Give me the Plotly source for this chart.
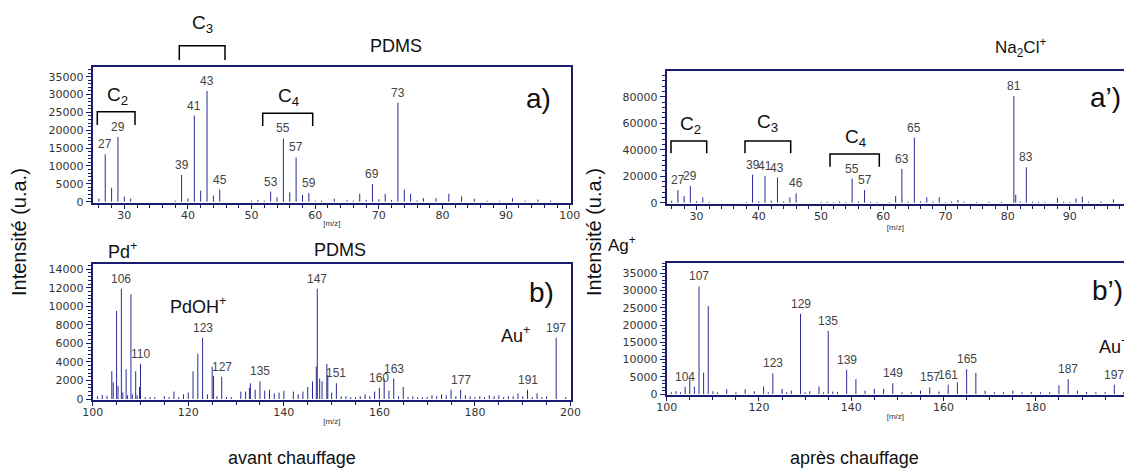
import plotly.graph_objects as go

W, H = 1124, 474
FRAME = "#1c1c6e"
STEM = "#2a2a96"
TXT = "#111111"
LBL = "#444444"
TICKFONT = "DejaVu Sans"
FONT = "Liberation Sans"

# ---------------- data: a) avant chauffage, m/z 25-100 ----------------
a_mz = [26, 27, 28, 29, 30, 31, 38, 39, 40, 41, 42, 43, 44, 45, 50, 51, 52, 53, 54, 55,
        56, 57, 58, 59, 60, 61, 63, 65, 66, 67, 68, 69, 70, 71, 72, 73, 74, 75, 76, 77,
        79, 81, 83, 85, 87, 89, 91, 93, 95, 97]
a_int = [900, 13300, 3900, 18100, 1400, 900, 300, 7500, 900, 24100, 3100, 31000, 1700, 3400, 300, 500, 300, 2800, 1200, 17700,
         2600, 12400, 1900, 2400, 300, 300, 800, 400, 300, 2200, 500, 4900, 700, 2200, 500, 27700, 3400, 2200, 300, 1000,
         1000, 2200, 1500, 800, 300, 300, 1000, 300, 600, 300]
a_labels = [27, 29, 39, 41, 43, 45, 53, 55, 57, 59, 69, 73]

# ---------------- data: b) avant chauffage, m/z 100-200 ----------------
b_mz = [101, 102, 103, 104, 104.3, 105, 105.3, 106, 106.3, 107, 107.3, 108, 108.3, 109, 109.3, 109.8, 110,
        111, 112, 113, 115, 116, 117, 118, 119, 120, 121, 122, 123, 124, 125, 125.3, 126, 127, 128, 129,
        131, 132, 132.8, 133, 134, 135, 136, 137, 138, 139, 140, 142, 143, 144, 145, 146, 146.8, 147, 147.5,
        148, 149, 149.2, 150, 151, 152, 153, 154, 155, 156, 157, 158, 159, 160, 161, 162, 163, 164, 165,
        166, 167, 168, 169, 170, 171, 172, 173, 174, 175, 176, 177, 178, 179, 180, 181, 182, 183, 184, 185,
        186, 187, 188, 189, 190, 191, 192, 193, 194, 195, 197, 199]
b_int = [300, 450, 350, 3000, 1800, 9500, 1400, 11900, 700, 3200, 400, 11300, 500, 3000, 400, 1300, 3800,
         200, 200, 200, 300, 200, 800, 200, 500, 700, 3000, 4900, 6600, 500, 3500, 2500, 300, 2400, 200, 200,
         800, 800, 1200, 1700, 1000, 1900, 900, 1000, 600, 700, 900, 800, 500, 800, 1300, 1900, 3500, 11900, 2200,
         1900, 3800, 2600, 700, 1700, 300, 300, 200, 200, 300, 500, 300, 800, 1200, 2200, 900, 2200, 300, 1300,
         200, 300, 200, 200, 200, 400, 300, 500, 400, 1000, 300, 1000, 400, 300, 200, 300, 200, 400, 300, 400,
         200, 300, 300, 600, 300, 1000, 200, 600, 200, 300, 6600, 200]
b_labels = [106, 110, 123, 127, 135, 147, 151, 160, 163, 177, 191, 197]

# ---------------- data: a') après chauffage, m/z 25-100 ----------------
ap_mz = [26, 27, 28, 29, 30, 31, 32, 38, 39, 40, 41, 42, 43, 44, 45, 46, 50, 51, 52, 53, 54, 55, 56, 57, 58,
         59, 61, 62, 63, 64, 65, 66, 67, 68, 69, 70, 71, 72, 73, 75, 77, 79, 81, 81.3, 82, 83, 84, 85, 86,
         88, 89, 90, 91, 92, 93, 95, 97]
ap_int = [1500, 9500, 5000, 12700, 1000, 4000, 500, 500, 21200, 1000, 20000, 1500, 19000, 1000, 4000, 7000, 500, 800, 500, 1000, 500, 18200, 1000, 9500, 800,
          500, 500, 5000, 25500, 800, 49200, 1000, 4200, 800, 4200, 500, 1000, 2000, 800, 500, 800, 600, 80500, 6000, 1000, 26700, 800, 600, 500,
          3700, 800, 600, 3200, 4500, 800, 1000, 2500]
ap_labels = [27, 29, 39, 41, 43, 46, 55, 57, 63, 65, 81, 83]

# ---------------- data: b') après chauffage, m/z 100-200 ----------------
bp_mz = [101, 102, 103, 104, 105, 106, 107, 108, 109, 110, 111, 113, 115, 117, 119, 121, 122, 123, 125, 126,
         127, 129, 130, 131, 133, 134, 135, 136, 137, 139, 141, 143, 145, 147, 149, 151, 153, 155, 157, 159,
         161, 163, 165, 167, 169, 171, 173, 175, 177, 179, 181, 183, 185, 187, 189, 191, 193, 195, 197, 199]
bp_int = [500, 800, 500, 2100, 4300, 2100, 31200, 6200, 25500, 800, 500, 1400, 500, 1400, 800, 2200, 500, 6000, 1500, 500,
          1000, 23300, 500, 800, 2200, 500, 18300, 700, 600, 7000, 4300, 1000, 1500, 1500, 3100, 500, 500, 1000, 1900, 700,
          2700, 3400, 7200, 6100, 1000, 500, 500, 1000, 500, 600, 500, 500, 2500, 4300, 1000, 600, 500, 500, 2700, 500]
bp_labels = [104, 107, 123, 129, 135, 139, 149, 157, 161, 165, 187, 197]


def px(x):
    return x / W


def py(y):
    return 1 - y / H


def stems(mz, inten):
    xs, ys = [], []
    for m, v in zip(mz, inten):
        xs += [m, m, None]
        ys += [0, v, None]
    return xs, ys


fig = go.Figure()
panels = [(a_mz, a_int, "x", "y"), (b_mz, b_int, "x2", "y2"),
          (ap_mz, ap_int, "x3", "y3"), (bp_mz, bp_int, "x4", "y4")]
for mz, inten, xr, yr in panels:
    xs, ys = stems(mz, inten)
    fig.add_trace(go.Scatter(x=xs, y=ys, mode="lines", xaxis=xr, yaxis=yr,
                             line=dict(color=STEM, width=1), hoverinfo="skip", showlegend=False))


def xax(domain, rng, dtick, minor, anchor):
    return dict(domain=domain, range=rng, dtick=dtick, tick0=0, ticks="outside", ticklen=4,
                tickwidth=1, tickcolor=FRAME, tickformat="d", automargin=False,
                ticklabelstandoff=-3,
                minor=dict(dtick=minor, tick0=0, ticks="outside", ticklen=3, tickcolor=FRAME),
                showline=True, linecolor=FRAME, linewidth=2, mirror=True, showgrid=False,
                zeroline=False, tickfont=dict(family=TICKFONT, size=11, color="#333"),
                title=dict(text="[m/z]", font=dict(family=FONT, size=8, color="#333"), standoff=0),
                anchor=anchor, fixedrange=True)


def yax(domain, rng, dtick, minor, anchor, mirror):
    return dict(domain=domain, range=rng, dtick=dtick, tick0=0, ticks="outside", ticklen=5,
                tickwidth=1, tickcolor=FRAME, tickformat="d", exponentformat="none", automargin=False,
                minor=dict(dtick=minor, tick0=0, ticks="outside", ticklen=3, tickcolor=FRAME),
                showline=True, linecolor=FRAME, linewidth=2, mirror=mirror, showgrid=False,
                zeroline=False, tickfont=dict(family=TICKFONT, size=11, color="#333"),
                anchor=anchor, fixedrange=True)


L = [px(92.7), px(571)]
R = [px(666.7), 1.0]
fig.update_layout(
    width=W, height=H, margin=dict(l=0, r=0, t=0, b=0, pad=0), autosize=False,
    paper_bgcolor="white", plot_bgcolor="white", showlegend=False,
    xaxis=xax(L, [25.03, 100.2], 10, 2, "y"),
    yaxis=yax([py(202.5), py(67)], [-224, 37716], 5000, 1000, "x", True),
    xaxis2=xax(L, [100, 200.1], 20, 5, "y2"),
    yaxis2=yax([py(400), py(264)], [-108, 14570], 2000, 400, "x2", True),
    xaxis3=xax(R, [25.2, 98.7], 10, 2, "y3"),
    yaxis3=yax([py(203.5), py(70.7)], [-604, 99620], 20000, 4000, "x3", False),
    xaxis4=xax(R, [100, 199.1], 20, 5, "y4"),
    yaxis4=yax([py(395), py(263)], [-290, 38000], 5000, 1000, "x4", False),
)

# peak labels
for mz, inten, labels, xr, yr in [(a_mz, a_int, a_labels, "x", "y"), (b_mz, b_int, b_labels, "x2", "y2"),
                                   (ap_mz, ap_int, ap_labels, "x3", "y3"), (bp_mz, bp_int, bp_labels, "x4", "y4")]:
    lookup = dict(zip(mz, inten))
    for m in labels:
        fig.add_annotation(x=m, y=lookup[m], xref=xr, yref=yr, text=str(m), showarrow=False,
                           xanchor="center", yanchor="bottom", yshift=1,
                           font=dict(family=FONT, size=12, color=LBL))


def note(text, x, y, size=18, anchor="center", angle=0):
    fig.add_annotation(x=px(x), y=py(y), xref="paper", yref="paper", text=text, showarrow=False,
                       xanchor=anchor, yanchor="middle", textangle=angle,
                       font=dict(family=FONT, size=size, color=TXT))


def bracket(x1, x2, ytop, ybot):
    fig.add_shape(type="path", xref="paper", yref="paper",
                  path=f"M {px(x1)},{py(ybot)} L {px(x1)},{py(ytop)} L {px(x2)},{py(ytop)} L {px(x2)},{py(ybot)}",
                  line=dict(color="black", width=1.5))


# left figure
note("C<sub>3</sub>", 202, 24, 19)
bracket(179.3, 225, 45.7, 60)
note("PDMS", 396, 46, 18)
note("C<sub>2</sub>", 117, 96, 19)
bracket(97.3, 135, 111.7, 125)
note("C<sub>4</sub>", 288, 97, 19)
bracket(262.7, 312.7, 113.3, 126)
note("a)", 538, 98, 28)
note("Pd<sup>+</sup>", 122, 250, 18)
note("PDMS", 340, 250, 18)
note("PdOH<sup>+</sup>", 198, 305, 18)
note("b)", 541, 292, 28)
note("Au<sup>+</sup>", 515, 334, 18)
note("Intensité (u.a.)", 19, 232, 20, angle=-90)
note("avant chauffage", 292, 458, 18)

# right figure
note("Na<sub>2</sub>Cl<sup>+</sup>", 1020, 48, 17)
note("C<sub>2</sub>", 690, 125, 19)
bracket(671, 706.7, 141, 153.3)
note("C<sub>3</sub>", 767.7, 123, 19)
bracket(745, 790.7, 141, 153.3)
note("C<sub>4</sub>", 855, 138, 19)
bracket(830, 879.3, 154, 166.7)
note("a’)", 1088, 97, 28, anchor="left")
note("Ag<sup>+</sup>", 622, 244, 17)
note("b’)", 1090, 290, 28, anchor="left")
note("Au<sup>+</sup>", 1097, 345, 18, anchor="left")
note("Intensité (u.a.)", 594, 232, 20, angle=-90)
note("après chauffage", 854, 458, 18)

fig.write_html("out.html", config={"displayModeBar": False},
               post_script="document.body.style.margin='0px';document.body.style.overflow='hidden';")
